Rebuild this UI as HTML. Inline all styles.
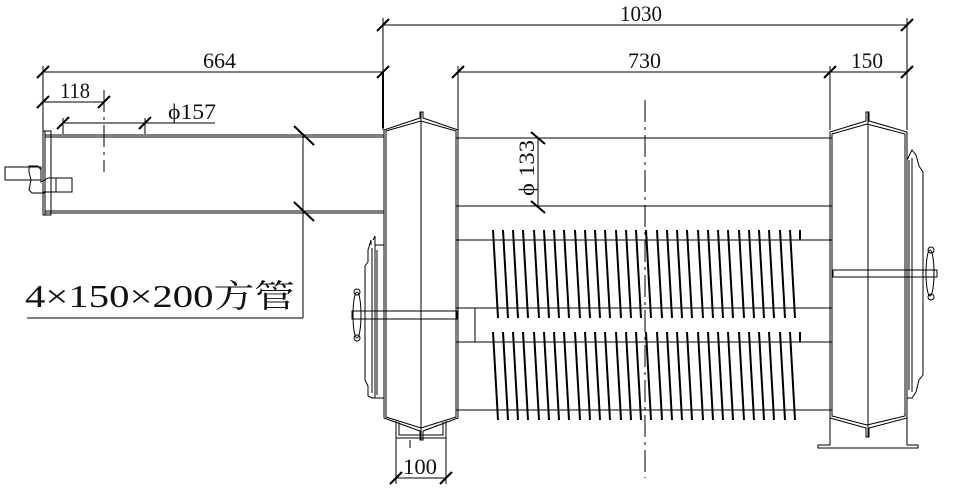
<!DOCTYPE html>
<html><head><meta charset="utf-8"><style>
html,body{margin:0;padding:0;background:#fff}
svg{display:block}
text{font-family:"Liberation Serif","Noto Serif CJK SC",serif;fill:#111}
</style></head><body>
<svg width="977" height="504" viewBox="0 0 977 504" xmlns="http://www.w3.org/2000/svg">
<g stroke="#000" stroke-width="1" fill="none">
<line x1="383" y1="25" x2="907" y2="25"/>
<line x1="383" y1="18" x2="383" y2="130"/>
<line x1="907" y1="18" x2="907" y2="130"/>
<line x1="43" y1="72" x2="383" y2="72"/>
<line x1="43" y1="66" x2="43" y2="132"/>
<line x1="43" y1="102" x2="104" y2="102"/>
<line x1="104" y1="90" x2="104" y2="172" stroke-dasharray="22,5,3,5"/>
<line x1="63" y1="123" x2="215" y2="123"/>
<line x1="63" y1="118" x2="63" y2="134"/>
<line x1="145" y1="118" x2="145" y2="134"/>
<line x1="458" y1="72" x2="907" y2="72"/>
<line x1="458" y1="66" x2="458" y2="130"/>
<line x1="830" y1="66" x2="830" y2="130"/>
<line x1="538" y1="138" x2="538" y2="207"/>
<line x1="396" y1="478" x2="446" y2="478"/>
<line x1="396" y1="438" x2="396" y2="484"/>
<line x1="446" y1="438" x2="446" y2="484"/>
<line x1="645" y1="100" x2="645" y2="478" stroke-dasharray="22,5,3,5"/>
<line x1="383" y1="72" x2="383" y2="128" stroke-width="2"/>
</g>
<g stroke="#000" stroke-width="2">
<line x1="377" y1="31" x2="389" y2="19"/><line x1="901" y1="31" x2="913" y2="19"/>
<line x1="37" y1="78" x2="49" y2="66"/><line x1="377" y1="78" x2="389" y2="66"/>
<line x1="37" y1="108" x2="49" y2="96"/><line x1="98" y1="108" x2="110" y2="96"/>
<line x1="57" y1="129" x2="69" y2="117"/><line x1="139" y1="129" x2="151" y2="117"/>
<line x1="452" y1="78" x2="464" y2="66"/><line x1="824" y1="78" x2="836" y2="66"/><line x1="901" y1="78" x2="913" y2="66"/>
<line x1="531" y1="132" x2="545" y2="144"/><line x1="531" y1="201" x2="545" y2="213"/>
<line x1="390" y1="484" x2="402" y2="472"/><line x1="440" y1="484" x2="452" y2="472"/>
<line x1="294" y1="126" x2="314" y2="145"/><line x1="294" y1="202" x2="314" y2="221"/>
</g>
<g font-size="22">
<text x="620" y="21" textLength="42" lengthAdjust="spacingAndGlyphs">1030</text>
<text x="203" y="68" textLength="33" lengthAdjust="spacingAndGlyphs">664</text>
<text x="60" y="98" textLength="30" lengthAdjust="spacingAndGlyphs">118</text>
<text x="168" y="119" textLength="48" lengthAdjust="spacingAndGlyphs">ϕ157</text>
<text x="628" y="68" textLength="33" lengthAdjust="spacingAndGlyphs">730</text>
<text x="851" y="68" textLength="32" lengthAdjust="spacingAndGlyphs">150</text>
<text x="403" y="474" textLength="34" lengthAdjust="spacingAndGlyphs">100</text>
<text transform="translate(534,196) rotate(-90)" textLength="56" lengthAdjust="spacingAndGlyphs">ϕ 133</text>
</g>
<text x="25" y="307" font-size="32" textLength="270" lengthAdjust="spacingAndGlyphs">4×150×200方管</text>
<g stroke="#000" stroke-width="1" fill="none">
<line x1="45" y1="135" x2="384" y2="135"/><line x1="45" y1="137" x2="384" y2="137"/>
<line x1="45" y1="211" x2="384" y2="211"/><line x1="45" y1="213" x2="384" y2="213"/>
<rect x="43" y="131" width="8" height="84"/>
<line x1="45" y1="131" x2="45" y2="215"/>
<rect x="5" y="167" width="36" height="13"/>
<path d="M29 166 L38 166 L41 170 L41 182 L48 178 L72 178 L72 192 L44 192 L44 193 L32 193 L29 190 L31 180 L29 172 Z"/>
<line x1="56" y1="178" x2="56" y2="192"/>
<line x1="303" y1="136" x2="303" y2="318"/>
<line x1="27" y1="318" x2="303" y2="318"/>
<path d="M384 130 L420 118 L420 112 L423 112 L423 118 L458 130 L458 418 L423 431 L423 440 L420 440 L420 431 L384 418 Z"/>
<path d="M386 131 L421 121 L456 131 L456 417 L421 428 L386 417 Z"/>
<line x1="421" y1="112" x2="421" y2="440"/>
<path d="M396 421 L396 438 L446 438 L446 421 M399 422 L399 435 L443 435 L443 422"/>
<line x1="410" y1="440" x2="410" y2="448"/>
<path d="M373 240 L375 236 L375 245 L384 245 M371 245 L371 240 L368 250 L368 262 L365 266 L365 380 L368 386 L368 396 L372 398 L384 398 M375 245 L375 398 M372 248 L372 393 M377 250 L377 395"/>
<rect x="352" y="311" width="105" height="8"/>
<ellipse cx="357" cy="315" rx="4" ry="23"/>
<circle cx="357" cy="292" r="3"/><circle cx="357" cy="338" r="3"/>
<line x1="456" y1="138" x2="832" y2="138"/><line x1="456" y1="206" x2="832" y2="206"/>
<line x1="456" y1="240" x2="832" y2="240"/><line x1="456" y1="308" x2="832" y2="308"/>
<line x1="456" y1="342" x2="832" y2="342"/><line x1="456" y1="410" x2="832" y2="410"/>
<line x1="456" y1="138" x2="456" y2="206"/><line x1="456" y1="240" x2="456" y2="308"/><line x1="456" y1="342" x2="456" y2="410"/>
<line x1="475" y1="308" x2="475" y2="342"/>
<path d="M830 132 L866 121 L866 112 L869 112 L869 121 L907 132 L907 418 L869 428 L869 437 L866 437 L866 428 L830 418 Z"/>
<path d="M832 134 L867 124 L905 134 L905 416 L867 425 L832 416 Z"/>
<line x1="868" y1="112" x2="868" y2="437"/>
<path d="M830 418 L830 445 L818 445 L818 448 L918 448 L918 445 L907 445 L907 418"/>
<path d="M907 160 L912 150 L916 155 L919 166 L923 172 L923 375 L919 380 L916 392 L912 398 L907 398 M912 158 L912 392 M909 160 L909 390"/>
<rect x="833" y="270" width="104" height="7"/>
<ellipse cx="930" cy="273" rx="4" ry="23"/>
<circle cx="931" cy="250" r="3"/><circle cx="931" cy="297" r="3"/>
</g>
<g stroke="#000" stroke-width="2">
<path d="M493 230 L498 318 M503 230 L508 318 M513 230 L518 318 M523 230 L528 318 M534 230 L539 318 M544 230 L549 318 M554 230 L559 318 M564 230 L569 318 M575 230 L580 318 M585 230 L590 318 M595 230 L600 318 M605 230 L610 318 M616 230 L621 318 M626 230 L631 318 M636 230 L641 318 M646 230 L651 318 M657 230 L662 318 M667 230 L672 318 M677 230 L682 318 M687 230 L692 318 M698 230 L703 318 M708 230 L713 318 M718 230 L723 318 M728 230 L733 318 M739 230 L744 318 M749 230 L754 318 M759 230 L764 318 M769 230 L774 318 M780 230 L785 318 M790 230 L795 318"/>
<path d="M493 332 L498 420 M503 332 L508 420 M513 332 L518 420 M523 332 L528 420 M534 332 L539 420 M544 332 L549 420 M554 332 L559 420 M564 332 L569 420 M575 332 L580 420 M585 332 L590 420 M595 332 L600 420 M605 332 L610 420 M616 332 L621 420 M626 332 L631 420 M636 332 L641 420 M646 332 L651 420 M657 332 L662 420 M667 332 L672 420 M677 332 L682 420 M687 332 L692 420 M698 332 L703 420 M708 332 L713 420 M718 332 L723 420 M728 332 L733 420 M739 332 L744 420 M749 332 L754 420 M759 332 L764 420 M769 332 L774 420 M780 332 L785 420 M790 332 L795 420"/>
<path d="M800 230 L800 240 M800 332 L800 342"/>
</g>
</svg>
</body></html>
